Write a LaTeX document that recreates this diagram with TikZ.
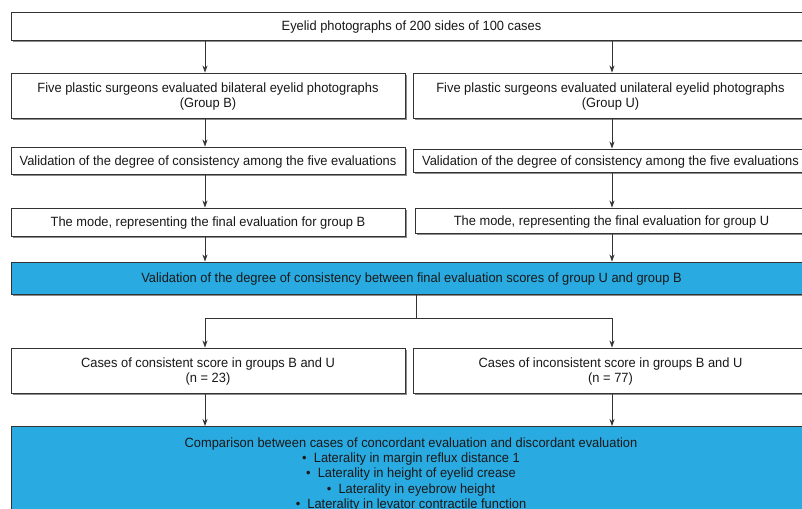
\documentclass[tikz,border=0pt]{standalone}
\usepackage{fontspec}
\setmainfont{Liberation Sans}[FakeStretch=0.96]
\usetikzlibrary{arrows.meta,shadows,calc}
\definecolor{boxblue}{HTML}{29ABE2}
\definecolor{edge}{HTML}{333333}
\definecolor{conn}{HTML}{333333}
\tikzset{
  fbox/.style={draw=edge, line width=0.9pt, fill=white, text=black!90,
    font=\fontsize{13.4}{15}\selectfont, align=center, inner sep=0pt, text depth=0pt,
    drop shadow={shadow xshift=1.6pt, shadow yshift=-1.6pt, fill=black!45, opacity=1}},
  bluebox/.style={fbox, fill=boxblue},
  conline/.style={draw=conn, line width=0.75pt},
  arr/.style={conline, -{Stealth[length=7pt,width=5pt]}}
}
\begin{document}
\begin{tikzpicture}[x=1pt,y=-1pt]
\useasboundingbox (0,0) rectangle (802,508);
\clip (0,0) rectangle (802,508);
\fill[white] (0,0) rectangle (802,508);
% boxes (x-centre, y-centre, width, height)
\node[fbox, minimum width=801pt, minimum height=28pt] (top) at (411.5,26) {Eyelid photographs of 200 sides of 100 cases};
\node[fbox, minimum width=394pt, minimum height=45pt] (b1) at (208,95.5) {Five plastic surgeons evaluated bilateral eyelid photographs\\(Group B)};
\node[fbox, minimum width=395pt, minimum height=45pt] (u1) at (610.5,95.5) {Five plastic surgeons evaluated unilateral eyelid photographs\\(Group U)};
\node[fbox, minimum width=394pt, minimum height=27pt] (b2) at (208,160.5) {Validation of the degree of consistency among the five evaluations};
\node[fbox, minimum width=395pt, minimum height=23pt] (u2) at (610.5,160.5) {Validation of the degree of consistency among the five evaluations};
\node[fbox, minimum width=394pt, minimum height=28pt] (b3) at (208,222) {The mode, representing the final evaluation for group B};
\node[fbox, minimum width=393pt, minimum height=25pt] (u3) at (611.5,220.5) {The mode, representing the final evaluation for group U};
\node[bluebox, minimum width=801pt, minimum height=32pt] (mid) at (411.5,278) {Validation of the degree of consistency between final evaluation scores of group U and group B};
\node[fbox, minimum width=394pt, minimum height=45pt] (c1) at (208,370.5) {Cases of consistent score in groups B and U\\(n = 23)};
\node[fbox, minimum width=395pt, minimum height=45pt] (c2) at (610.5,370.5) {Cases of inconsistent score in groups B and U\\(n = 77)};
\node[bluebox, minimum width=801pt, minimum height=96pt, anchor=north] (bot) at (411.5,426) {};
\node[font=\fontsize{13.4}{15.2}\selectfont, text=black!90, align=center, anchor=north, inner sep=0pt] (bottxt) at (411,437.5)
 {Comparison between cases of concordant evaluation and discordant evaluation\\
  \textbullet\ \ Laterality in margin reflux distance 1\\
  \textbullet\ \ Laterality in height of eyelid crease\\
  \textbullet\ \ Laterality in eyebrow height\\
  \textbullet\ \ Laterality in levator contractile function};
% connectors
\draw[arr] (top.south -| 205,0) -- (b1.north -| 205,0);
\draw[arr] (top.south -| 612,0) -- (u1.north -| 612,0);
\draw[arr] (b1.south -| 205,0) -- (b2.north -| 205,0);
\draw[arr] (u1.south -| 612,0) -- (u2.north -| 612,0);
\draw[arr] (b2.south -| 205,0) -- (b3.north -| 205,0);
\draw[arr] (u2.south -| 612,0) -- (u3.north -| 612,0);
\draw[arr] (b3.south -| 205,0) -- (mid.north -| 205,0);
\draw[arr] (u3.south -| 612,0) -- (mid.north -| 612,0);
\coordinate (split) at (416,318);
\draw[conline] (mid.south -| split) -- (split);
\draw[arr] (split) -| (c1.north -| 205,0);
\draw[arr] (split) -| (c2.north -| 612,0);
\draw[arr] (c1.south -| 205,0) -- (bot.north -| 205,0);
\draw[arr] (c2.south -| 612,0) -- (bot.north -| 612,0);
\end{tikzpicture}
\end{document}
